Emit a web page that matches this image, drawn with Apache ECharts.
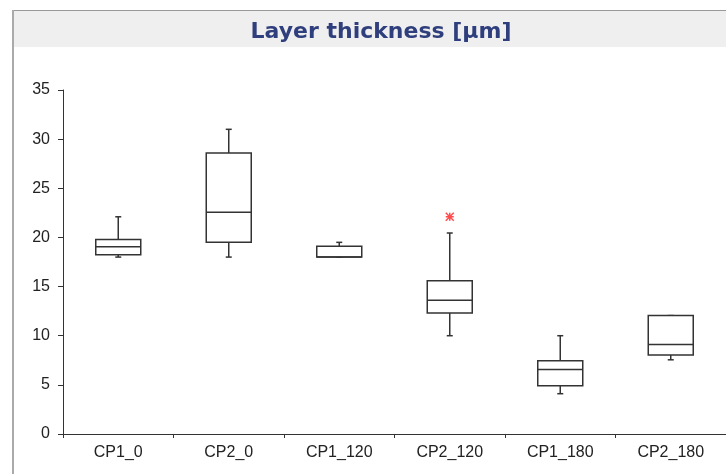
<!DOCTYPE html>
<html>
<head>
<meta charset="utf-8">
<script src="https://cdn.jsdelivr.net/npm/echarts@6/dist/echarts.min.js"></script>
<style>
  html, body { margin: 0; padding: 0; background: #fff; }
  #chart { width: 726px; height: 474px; }
</style>
</head>
<body>
<div id="chart"></div>
<script>
// categories and box values
var categories = ['CP1_0', 'CP2_0', 'CP1_120', 'CP2_120', 'CP1_180', 'CP2_180'];
var whiskerLow = [18.0, 18.0, 18.0, 10.0, 4.1, 7.55];
var q1 = [18.25, 19.5, 18.0, 12.3, 4.9, 8.05];
var median = [19.05, 22.55, 18.0, 13.6, 6.55, 9.1];
var q3 = [19.8, 28.6, 19.1, 15.6, 7.45, 12.05];
var whiskerHigh = [22.1, 31.0, 19.5, 20.45, 10.0, 12.05];
// outliers: [category index, value]
var outliers = [[3, 22.1]];
var yTicks = [0, 5, 10, 15, 20, 25, 30, 35];

var boxData = categories.map(function (c, i) {
  return [i, whiskerLow[i], q1[i], median[i], q3[i], whiskerHigh[i]];
});

var chart = echarts.init(document.getElementById('chart'));

// box + whiskers with short end caps, like the original
function renderBox(params, api) {
  var idx = api.value(0);
  var lo = api.coord([idx, api.value(1)]);
  var b1 = api.coord([idx, api.value(2)]);
  var md = api.coord([idx, api.value(3)]);
  var b3 = api.coord([idx, api.value(4)]);
  var hi = api.coord([idx, api.value(5)]);
  var x = lo[0];
  var half = 22.5;
  var cap = 3;
  var st = { stroke: '#333', lineWidth: 1.5, fill: null };
  return {
    type: 'group',
    children: [
      { type: 'line', shape: { x1: x, y1: b1[1], x2: x, y2: lo[1] }, style: st },
      { type: 'line', shape: { x1: x - cap, y1: lo[1], x2: x + cap, y2: lo[1] }, style: st },
      { type: 'line', shape: { x1: x, y1: b3[1], x2: x, y2: hi[1] }, style: st },
      { type: 'line', shape: { x1: x - cap, y1: hi[1], x2: x + cap, y2: hi[1] }, style: st },
      { type: 'rect', shape: { x: x - half, y: b3[1], width: half * 2, height: b1[1] - b3[1] },
        style: { stroke: '#333', lineWidth: 1.5, fill: '#fff' } },
      { type: 'line', shape: { x1: x - half, y1: md[1], x2: x + half, y2: md[1] }, style: st }
    ]
  };
}

chart.setOption({
  animation: false,
  graphic: [
    { type: 'rect', shape: { x: 12, y: 10, width: 720, height: 37 },
      style: { fill: '#efefef' }, z: -10 },
    { type: 'line', shape: { x1: 12, y1: 10.5, x2: 726, y2: 10.5 },
      style: { stroke: '#999', lineWidth: 1 } },
    { type: 'line', shape: { x1: 13, y1: 10, x2: 13, y2: 474 },
      style: { stroke: '#aaa', lineWidth: 2 } }
  ],
  title: {
    text: 'Layer thickness [µm]',
    left: 376,
    textAlign: 'center',
    top: 16,
    textStyle: {
      fontFamily: 'DejaVu Sans',
      fontSize: 22,
      fontWeight: 'bold',
      color: '#2f3e7c'
    }
  },
  grid: { left: 63, right: -6, top: 90, bottom: 40 },
  xAxis: {
    type: 'category',
    data: categories,
    boundaryGap: true,
    axisLine: { lineStyle: { color: '#333', width: 1 } },
    axisTick: { show: true, length: 4, lineStyle: { color: '#333' } },
    axisLabel: { color: '#222', fontSize: 16, fontFamily: 'Liberation Sans', margin: 11 },
    splitLine: { show: false }
  },
  yAxis: {
    type: 'value',
    min: yTicks[0],
    max: yTicks[yTicks.length - 1],
    interval: 5,
    axisLine: { show: true, lineStyle: { color: '#333', width: 1 } },
    axisTick: { show: true, length: 5, lineStyle: { color: '#333' } },
    axisLabel: { color: '#222', fontSize: 16, fontFamily: 'Liberation Sans', margin: 13 },
    splitLine: { show: false }
  },
  series: [
    {
      type: 'custom',
      renderItem: renderBox,
      encode: { x: 0, y: [1, 2, 3, 4, 5] },
      data: boxData
    },
    {
      type: 'scatter',
      data: outliers,
      symbol: 'path://M0,0L10,10M10,0L0,10M5,0L5,10M0,5L10,5',
      symbolSize: 8,
      itemStyle: { color: 'transparent', borderColor: '#ff2020', borderWidth: 1.5 },
      z: 5
    }
  ]
});
</script>
</body>
</html>
